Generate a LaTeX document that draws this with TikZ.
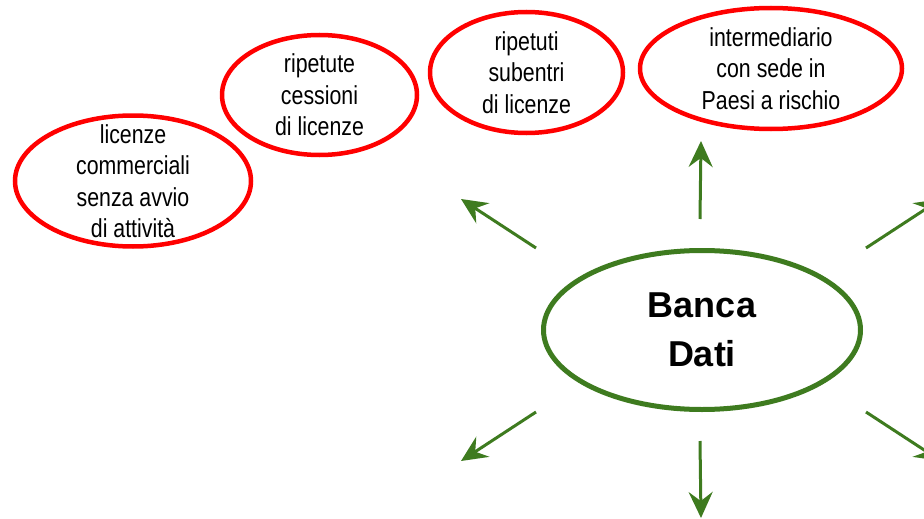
\documentclass[tikz,border=0pt]{standalone}
\usepackage{fontspec}
\setmainfont{Liberation Sans}
\newfontfamily\narrowfont[FakeStretch=0.82]{Liberation Sans}
\usetikzlibrary{arrows.meta,shapes.geometric}
\definecolor{dbgreen}{HTML}{3E7B1F}
\definecolor{dbred}{HTML}{FF0000}
\tikzset{
  redoval/.style={ellipse,draw=dbred,line width=4.5pt,inner sep=0pt},
  redtext/.style={inner sep=0pt,align=center,
    font=\narrowfont\fontsize{26}{31.5}\selectfont},
  greenarrow/.style={draw=dbgreen,line width=3pt,
    -{Stealth[length=26pt,width=24pt,inset=9pt]}}
}

\begin{document}
\begin{tikzpicture}[x=1pt,y=-1pt]
  \useasboundingbox (0,0) rectangle (924,519);
  \clip (0,0) rectangle (924,519);

  % ---- Red ovals (top) ---------------------------------------
  \node[redoval,minimum width=236pt,minimum height=131pt] (commerciali)
    at (133,181) {};
  \node[redtext] at (commerciali) {licenze\\commerciali\\senza avvio\\di attività};
  \node[redoval,minimum width=195pt,minimum height=120pt] (cessioni)
    at (319.5,95) {};
  \node[redtext] at (cessioni) {ripetute\\cessioni\\di licenze};
  \node[redoval,minimum width=193pt,minimum height=121pt] (subentri)
    at (526.5,72.5) {};
  \node[redtext] at (subentri) {ripetuti\\subentri\\di licenze};
  \node[redoval,minimum width=262pt,minimum height=121pt] (intermediario)
    at (771,68.5) {};
  \node[redtext] at (intermediario) {intermediario\\con sede in\\Paesi a rischio};

  % ---- Central oval ------------------------------------------
  \node[ellipse,draw=dbgreen,line width=5pt,inner sep=0pt,
    minimum width=317pt,minimum height=159pt,align=center,
    font=\fontsize{36}{49}\selectfont\bfseries] (banca) at (702,330)
    {Banca\\Dati};

  % ---- Arrows round the central oval -------------------------
  \coordinate (nS) at (700,219);  \coordinate (nE) at (701,141);
  \coordinate (sS) at (700,441);  \coordinate (sE) at (701,518);
  \coordinate (nwS) at (536,248); \coordinate (nwE) at (461,199);
  \coordinate (swS) at (536,412); \coordinate (swE) at (461,461);
  \coordinate (neS) at (866,248); \coordinate (neE) at (941,199);
  \coordinate (seS) at (866,412); \coordinate (seE) at (941,461);
  \foreach \d in {n,s,nw,sw,ne,se}
    \draw[greenarrow] (\d S) -- (\d E);

\end{tikzpicture}
\end{document}
